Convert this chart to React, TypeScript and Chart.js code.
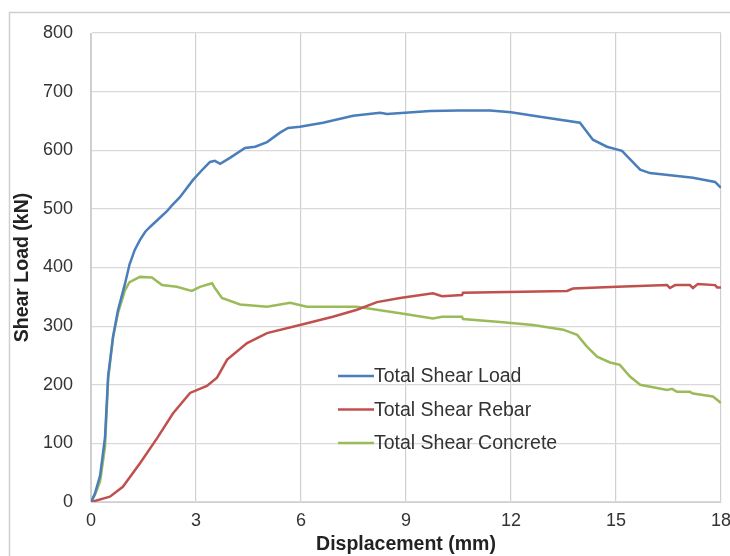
import React, { useEffect, useRef } from "react";
import { Chart, registerables } from "chart.js";

Chart.register(...registerables);

const xTitle = "Displacement (mm)";
const yTitle = "Shear Load (kN)";

const loadLabel = "Total Shear Load";
const loadX = [0, 0.11, 0.26, 0.4, 0.49, 0.63, 0.77, 0.97, 1.1, 1.25, 1.4, 1.55, 1.7, 1.9, 2.17, 2.3, 2.54, 2.91, 3.2, 3.4, 3.54, 3.69, 3.97, 4.4, 4.69, 5.03, 5.4, 5.63, 5.97, 6.63, 7.49, 8.26, 8.46, 9.69, 10.5, 11.4, 12, 12.83, 13.97, 14.34, 14.74, 15.17, 15.69, 15.97, 17.2, 17.83, 18];
const loadY = [0, 14, 45, 110, 215, 282, 327, 372, 405, 430, 447, 461, 470, 481, 496, 505, 520, 549, 568, 580, 582, 577, 587, 604, 606, 614, 630, 638, 640, 647, 659, 664, 662, 667, 668, 668, 665, 657, 647, 618, 606, 599, 567, 561, 553, 546, 536];

const rebarLabel = "Total Shear Rebar";
const rebarX = [0, 0.54, 0.91, 1.4, 1.89, 2.34, 2.83, 3.31, 3.6, 3.89, 4.46, 5.03, 5.97, 6.91, 7.6, 8.17, 8.83, 9.77, 10.03, 10.6, 10.63, 13.6, 13.77, 15.03, 16.46, 16.54, 16.69, 17.11, 17.2, 17.34, 17.83, 17.89, 18];
const rebarY = [0, 9, 26, 66, 109, 151, 186, 198, 212, 243, 271, 288, 302, 316, 328, 341, 348, 356, 351, 353, 357, 360, 364, 367, 370, 365, 370, 370, 365, 372, 370, 366, 366];

const concreteLabel = "Total Shear Concrete";
const concreteX = [0, 0.11, 0.26, 0.4, 0.49, 0.63, 0.77, 0.97, 1.1, 1.4, 1.74, 2.03, 2.45, 2.88, 3.11, 3.46, 3.54, 3.74, 4.26, 5.03, 5.69, 6.17, 7.6, 8.83, 9.77, 10.03, 10.6, 10.63, 11.69, 12.63, 13.49, 13.89, 14.17, 14.46, 14.83, 15.11, 15.4, 15.69, 16.46, 16.6, 16.74, 17.11, 17.2, 17.77, 18];
const concreteY = [0, 12, 35, 94, 210, 281, 322, 361, 375, 384, 383, 370, 367, 360, 367, 373, 365, 348, 337, 333, 340, 333, 333, 322, 313, 316, 316, 312, 307, 302, 294, 285, 265, 248, 238, 234, 214, 200, 191, 193, 188, 188, 185, 180, 169];

const xTicks = [0, 3, 6, 9, 12, 15, 18];
const yTicks = [0, 100, 200, 300, 400, 500, 600, 700, 800];

const FONT = '"Liberation Sans", Arial, sans-serif';

const toPoints = (xs: number[], ys: number[]) => xs.map((x, i) => ({ x, y: ys[i] }));

const framePlugin = {
  id: "frame",
  beforeDraw(chart: any) {
    const ctx = chart.ctx;
    ctx.save();
    ctx.fillStyle = "#ffffff";
    ctx.fillRect(0, 0, chart.width, chart.height);
    ctx.strokeStyle = "#cfcfcf";
    ctx.lineWidth = 1.5;
    ctx.strokeRect(9.5, 12.5, chart.width + 20, chart.height + 20);
    ctx.restore();
  },
};

const legendPlugin = {
  id: "insideLegend",
  afterDraw(chart: any) {
    const ctx = chart.ctx;
    ctx.save();
    ctx.font = `19.5px ${FONT}`;
    ctx.textBaseline = "middle";
    ctx.textAlign = "left";
    chart.data.datasets.forEach((ds: any, i: number) => {
      const y = 376 + i * 33.5;
      ctx.strokeStyle = ds.borderColor;
      ctx.lineWidth = 2.5;
      ctx.beginPath();
      ctx.moveTo(338, y);
      ctx.lineTo(374, y);
      ctx.stroke();
      ctx.fillStyle = "#333333";
      ctx.fillText(ds.label, 374, y + 1);
    });
    ctx.restore();
  },
};

export default function App() {
  const ref = useRef<HTMLCanvasElement>(null);
  useEffect(() => {
    if (!ref.current) return;
    const chart = new Chart(ref.current, {
      type: "scatter",
      data: {
        datasets: [
          { label: loadLabel, data: toPoints(loadX, loadY), borderColor: "#4a7ebb", backgroundColor: "#4a7ebb" },
          { label: rebarLabel, data: toPoints(rebarX, rebarY), borderColor: "#c0504d", backgroundColor: "#c0504d" },
          { label: concreteLabel, data: toPoints(concreteX, concreteY), borderColor: "#9bbb59", backgroundColor: "#9bbb59" },
        ].map((d) => ({ ...d, showLine: true, pointRadius: 0, borderWidth: 2.5, tension: 0 })),
      },
      options: {
        animation: false,
        responsive: false,
        layout: { padding: { top: 33, right: 9, left: 0, bottom: 0 } },
        plugins: { legend: { display: false }, tooltip: { enabled: false } },
        scales: {
          x: {
            type: "linear",
            min: 0,
            max: 18,
            afterBuildTicks: (s: any) => { s.ticks = xTicks.map((v) => ({ value: v })); },
            afterFit: (s: any) => { s.height = 54; s.paddingRight = 0; s.paddingLeft = 0; },
            ticks: { color: "#333333", font: { family: FONT, size: 18 }, padding: 8 },
            grid: { color: "#d0d0d0", lineWidth: 1.2, drawTicks: false },
            border: { color: "#d0d0d0" },
            title: { display: true, text: xTitle, color: "#222222", font: { family: FONT, size: 19.5, weight: "bold" }, padding: { top: 0, bottom: 0 } },
          },
          y: {
            type: "linear",
            min: 0,
            max: 800,
            afterBuildTicks: (s: any) => { s.ticks = yTicks.map((v) => ({ value: v })); },
            afterFit: (s: any) => { s.width = 91; },
            ticks: { color: "#333333", font: { family: FONT, size: 18 }, padding: 18 },
            grid: { color: "#d9d9d9", lineWidth: 1.2, drawTicks: false },
            border: { color: "#d0d0d0" },
            title: { display: true, text: yTitle, color: "#222222", font: { family: FONT, size: 19.5, weight: "bold" }, padding: { top: 11, bottom: 0 } },
          },
        },
      },
      plugins: [framePlugin, legendPlugin],
    });
    return () => chart.destroy();
  }, []);
  return (
    <div style={{ position: "absolute", left: 0, top: 0, width: 730, height: 556 }}>
      <canvas ref={ref} width={730} height={556} />
    </div>
  );
}
